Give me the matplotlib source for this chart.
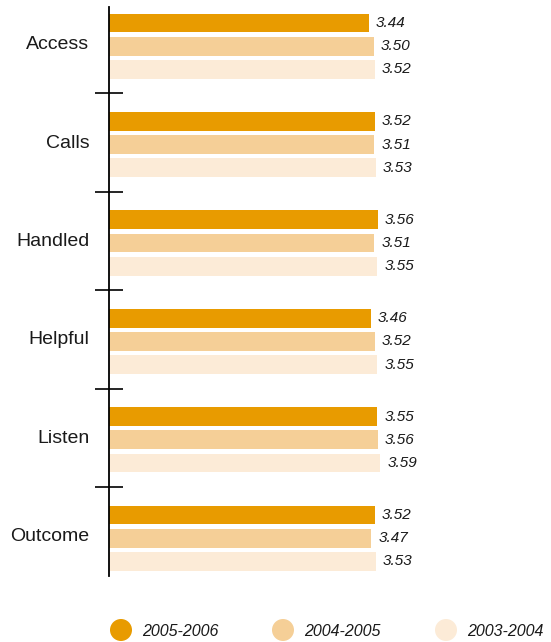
import numpy as np
import matplotlib
matplotlib.use("Agg")
import matplotlib.pyplot as plt
from matplotlib.patches import Circle

categories = ["Access", "Calls", "Handled", "Helpful", "Listen", "Outcome"]
series_names = ["2005-2006", "2004-2005", "2003-2004"]
vals_0506 = [3.44, 3.52, 3.56, 3.46, 3.55, 3.52]
vals_0405 = [3.50, 3.51, 3.51, 3.52, 3.56, 3.47]
vals_0304 = [3.52, 3.53, 3.55, 3.55, 3.59, 3.53]
colors = ["#E89B00", "#F5CF97", "#FCEBD7"]

font = ["Liberation Sans", "DejaVu Sans"]
txt = "#1a1a1a"

W, H = 551, 642
fig = plt.figure(figsize=(W / 100, H / 100), dpi=100)
# axis area in pixels: left edge 109, top 7, bottom 576
ax = fig.add_axes([109 / W, (H - 576) / H, 378 / W, 569 / H])

pos = np.arange(len(categories))
step, bh = 0.236, 0.19
for k, vals in enumerate([vals_0506, vals_0405, vals_0304]):
    y = pos + (k - 1) * step
    ax.barh(y, vals, height=bh, color=colors[k], left=0)
    for yy, v in zip(y, vals):
        ax.annotate(f"{v:.2f}", (v, yy), xytext=(5, 0), textcoords="offset points",
                    ha="left", va="center", fontsize=11, style="italic",
                    family=font, color=txt)

ax.set_xlim(0, 5)
ax.set_ylim(5.384, -0.398)
ax.set_xticks([])
ax.set_yticks(pos - 0.035)
ax.set_yticklabels(categories, fontsize=14, family=font, color=txt)
ax.set_yticks(pos[:-1] + 0.48, minor=True)
ax.tick_params(axis="y", which="major", length=0, pad=14)
ax.tick_params(axis="y", which="minor", direction="inout", length=20, width=1.2, color="black")
for s in ["top", "right", "bottom"]:
    ax.spines[s].set_visible(False)
ax.spines["left"].set_linewidth(1.3)
ax.patch.set_alpha(0)

# legend row along the bottom, in pixel units
lax = fig.add_axes([0, 0, 1, 1], zorder=-1)
lax.set_xlim(0, W)
lax.set_ylim(H, 0)
lax.axis("off")
for cx, c, name in zip([121, 283, 446], colors, series_names):
    lax.add_patch(Circle((cx, 630), 11, color=c, lw=0))
    lax.text(cx + 21, 631, name, ha="left", va="center", fontsize=11.5,
             style="italic", family=font, color=txt)

fig.savefig("out.png", dpi=100)
